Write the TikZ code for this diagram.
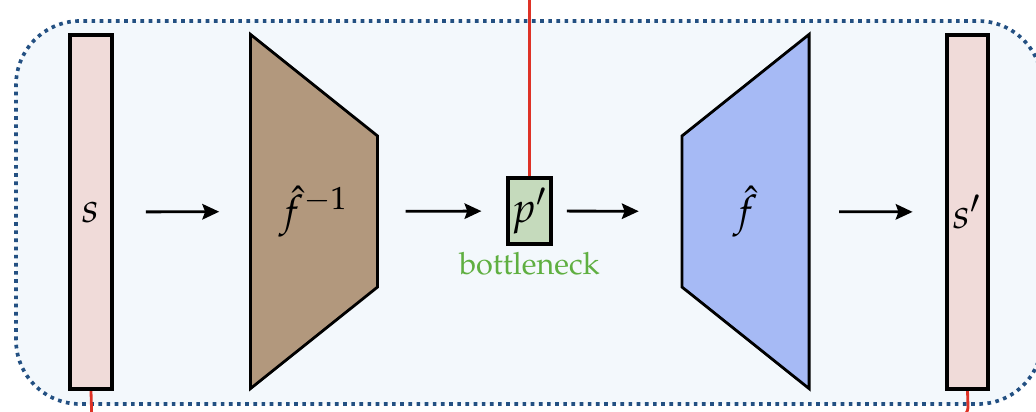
\documentclass[tikz,border=0pt]{standalone}
\usepackage[T1]{fontenc}
\usepackage{mathpazo}
\usetikzlibrary{arrows.meta,calc}

\definecolor{framefill}{RGB}{243,248,252}
\definecolor{framedot}{RGB}{35,80,130}
\definecolor{vecpink}{RGB}{240,219,217}
\definecolor{encbrown}{RGB}{178,152,125}
\definecolor{decblue}{RGB}{166,186,245}
\definecolor{latgreen}{RGB}{197,218,188}
\definecolor{textgreen}{RGB}{95,175,65}
\definecolor{wirered}{RGB}{222,50,38}

\newcommand{\mathlbl}[1]{\fontsize{15}{18}\selectfont$#1$}

\tikzset{
	frame/.style={draw=framedot, fill=framefill, line width=1.3pt, dash pattern=on 1.3pt off 1.6pt, rounded corners=0.8cm},
	vecbar/.style={draw, line width=1.5pt, fill=vecpink, minimum width=0.52cm, minimum height=4.425cm, inner sep=0pt},
	net/.style={minimum width=1.575cm, minimum height=4.4125cm, inner sep=0pt},
	netshape/.style={draw, line width=1pt, line join=miter},
	latent/.style={draw, line width=1.2pt, fill=latgreen, minimum width=0.54cm, minimum height=0.825cm, inner sep=0pt},
	flow/.style={-{Stealth[length=6pt,width=5.5pt,inset=1pt]}, line width=1pt},
	wire/.style={draw=wirered, line width=1pt},
}

\begin{document}
\begin{tikzpicture}[x=0.0125cm, y=0.0125cm]
	\useasboundingbox (0,0) rectangle (1036,411);
	% outer frame
	\draw[frame] (16,7) rectangle (1042,390);

	% wires leaving the picture
	\coordinate (wtop) at (529.5,425);
	\coordinate (wleft) at (92,-15);
	\coordinate (wright) at (968,4);

	% vectors
	\node[vecbar] (s) at (91,199) {\mathlbl{s}};
	\node[vecbar] (s2) at (967.5,199) {\mathlbl{s'}};

	% encoder
	\node[net] (finv) at (314,199.5) {};
	\draw[netshape, fill=encbrown] (finv.north west) -- (finv.south west) -- ($(finv.east)+(0,-75.5)$) -- ($(finv.east)+(0,75.5)$) -- cycle;
	\node (finvlabel) at (finv) {\mathlbl{\hat{f}^{-1}}};

	% decoder
	\node[net] (f) at (745.5,199.5) {};
	\draw[netshape, fill=decblue] (f.north east) -- (f.south east) -- ($(f.west)+(0,-75.5)$) -- ($(f.west)+(0,75.5)$) -- cycle;
	\node (flabel) at (f) {\mathlbl{\hat{f}}};

	% bottleneck
	\node[latent] (p) at (529.5,200) {\mathlbl{p'}};
	\node[text=textgreen, anchor=north, inner sep=2pt] (bneck) at (p.south) {\fontsize{10.9}{13}\selectfont bottleneck};

	\draw[wire] (p.north) -- (wtop);
	\draw[wire] (s.south) -- (wleft);
	\draw[wire] (s2.south) -- (wright) to[out=-90,in=0] ++(-14,-12);

	% arrows
	\draw[flow, shorten <=0.4cm, shorten >=0.39cm] (s) -- (finv);
	\draw[flow, shorten <=0.35cm, shorten >=0.31cm] (finv) -- (p);
	\draw[flow, shorten <=0.175cm, shorten >=0.54cm] (p) -- (f);
	\draw[flow, shorten <=0.375cm, shorten >=0.4cm] (f) -- (s2);
\end{tikzpicture}
\end{document}
